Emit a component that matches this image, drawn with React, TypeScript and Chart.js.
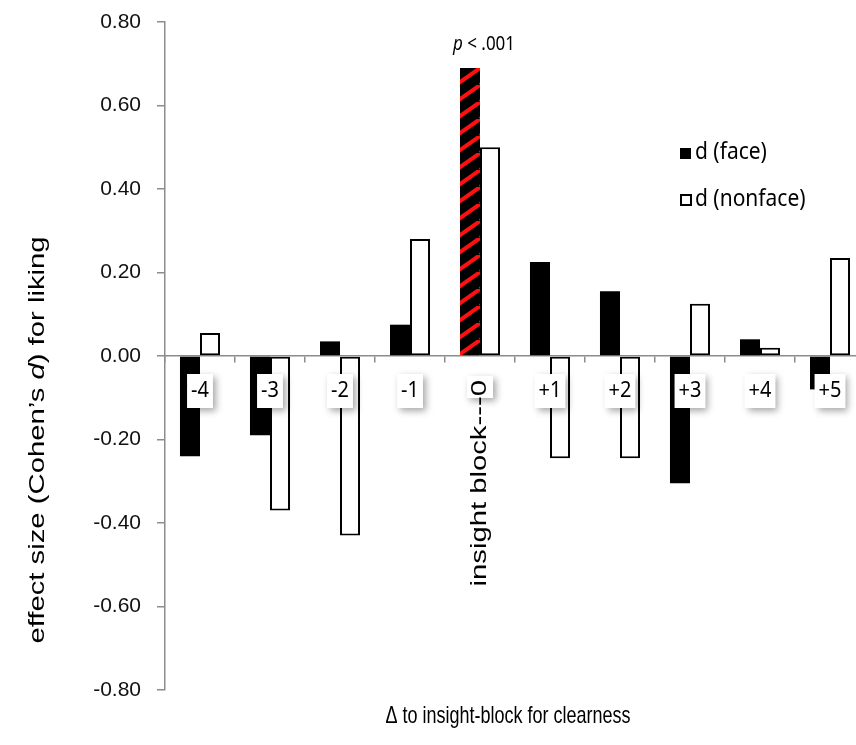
import React, { useEffect, useRef } from "react";
import { Chart, registerables } from "chart.js";

Chart.register(...registerables);

const categories = ["-4", "-3", "-2", "-1", "0", "+1", "+2", "+3", "+4", "+5"];
const faceValues = [-0.24, -0.19, 0.035, 0.075, 0.69, 0.225, 0.155, -0.305, 0.04, -0.08];
const nonfaceValues = [0.055, -0.37, -0.43, 0.28, 0.5, -0.245, -0.245, 0.125, 0.02, 0.235];
const seriesLabels = ["d (face)", "d (nonface)"];
const yMin = -0.8;
const yMax = 0.8;
const yStep = 0.2;
const highlightIndex = 4;
const insightLabel = "insight block---0";
const pLabelItalic = "p";
const pLabelRest = " < .001";
const xTitle = "\u0394 to insight-block for clearness";
const yTitleA = "effect size (Cohen\u2019s ";
const yTitleB = "d";
const yTitleC = ") for liking";

const LABEL_FONT = '"Noto Sans", "Open Sans", sans-serif';
const ARIAL = '"Liberation Sans", Arial, sans-serif';
const VSTRETCH = 1.33;
const VFONT = 22;

function makeHatch(ctx: CanvasRenderingContext2D) {
  const W = 24;
  const H = 17;
  const c = document.createElement("canvas");
  c.width = W;
  c.height = H;
  const g = c.getContext("2d")!;
  g.fillStyle = "#000";
  g.fillRect(0, 0, W, H);
  g.strokeStyle = "#ff1010";
  g.lineWidth = 4;
  for (const dx of [-W, 0, W]) {
    g.beginPath();
    g.moveTo(dx, H);
    g.lineTo(dx + W, 0);
    g.stroke();
  }
  return ctx.createPattern(c, "repeat")!;
}

function drawBoxLabel(ctx: CanvasRenderingContext2D, text: string, x: number, y: number) {
  ctx.save();
  ctx.font = `20px ${LABEL_FONT}`;
  const w = ctx.measureText(text).width + 8;
  const h = 34;
  ctx.shadowColor = "rgba(0,0,0,0.35)";
  ctx.shadowBlur = 7;
  ctx.shadowOffsetX = 3;
  ctx.shadowOffsetY = 3;
  ctx.fillStyle = "#fff";
  ctx.fillRect(x - w / 2, y - h / 2, w, h);
  ctx.restore();
  ctx.save();
  ctx.translate(x, y);
  ctx.scale(1, 1.12);
  ctx.font = `20px ${LABEL_FONT}`;
  ctx.fillStyle = "#000";
  ctx.textAlign = "center";
  ctx.textBaseline = "middle";
  ctx.fillText(text, 0, 0);
  ctx.restore();
}

const overlayPlugin = {
  id: "overlay",
  afterDraw(chart: any) {
    const ctx: CanvasRenderingContext2D = chart.ctx;
    const xs = chart.scales.x;
    const ys = chart.scales.y;
    const zeroY = ys.getPixelForValue(0);

    // category labels
    categories.forEach((cat, i) => {
      const cx = xs.getPixelForValue(i);
      if (i === highlightIndex) {
        ctx.save();
        ctx.shadowColor = "rgba(0,0,0,0.35)";
        ctx.shadowBlur = 7;
        ctx.shadowOffsetX = 3;
        ctx.shadowOffsetY = 3;
        ctx.fillStyle = "#fff";
        ctx.fillRect(cx - 13, zeroY + 20, 26, 22);
        ctx.restore();
        ctx.save();
        ctx.translate(cx, zeroY + 24);
        ctx.rotate(-Math.PI / 2);
        ctx.scale(VSTRETCH, 1);
        ctx.font = `${VFONT}px ${ARIAL}`;
        ctx.fillStyle = "#000";
        ctx.textAlign = "right";
        ctx.textBaseline = "middle";
        ctx.fillText(insightLabel, 0, 0);
        ctx.restore();
      } else {
        drawBoxLabel(ctx, cat, cx, zeroY + 35);
      }
    });

    // p annotation
    ctx.save();
    ctx.font = `italic 17px ${LABEL_FONT}`;
    const pw = ctx.measureText(pLabelItalic).width;
    ctx.font = `17px ${LABEL_FONT}`;
    const rw = ctx.measureText(pLabelRest).width;
    const px = 484 - (pw + rw) / 2;
    ctx.translate(0, 45);
    ctx.scale(1, 1.12);
    ctx.textBaseline = "middle";
    ctx.fillStyle = "#000";
    ctx.font = `italic 17px ${LABEL_FONT}`;
    ctx.fillText(pLabelItalic, px, 0);
    ctx.font = `17px ${LABEL_FONT}`;
    ctx.fillText(pLabelRest, px + pw, 0);
    ctx.restore();

    // legend
    ctx.save();
    ctx.fillStyle = "#000";
    ctx.fillRect(680, 148, 11, 11);
    ctx.strokeStyle = "#000";
    ctx.lineWidth = 2;
    ctx.strokeRect(681, 195, 10, 10);
    ctx.font = `21px ${LABEL_FONT}`;
    ctx.textBaseline = "middle";
    ctx.save();
    ctx.translate(695, 153);
    ctx.scale(1, 1.08);
    ctx.fillText(seriesLabels[0], 0, 0);
    ctx.restore();
    ctx.save();
    ctx.translate(695, 200);
    ctx.scale(1, 1.08);
    ctx.fillText(seriesLabels[1], 0, 0);
    ctx.restore();
    ctx.restore();

    // x title
    ctx.save();
    ctx.translate(508, 717);
    ctx.scale(1, 1.3);
    ctx.font = `18px ${ARIAL}`;
    ctx.fillStyle = "#000";
    ctx.textAlign = "center";
    ctx.textBaseline = "middle";
    ctx.fillText(xTitle, 0, 0);
    ctx.restore();

    // y title
    ctx.save();
    ctx.translate(38, 440);
    ctx.rotate(-Math.PI / 2);
    ctx.scale(VSTRETCH, 1);
    ctx.font = `${VFONT}px ${ARIAL}`;
    const wa = ctx.measureText(yTitleA).width;
    const wc = ctx.measureText(yTitleC).width;
    ctx.font = `italic ${VFONT}px ${ARIAL}`;
    const wb = ctx.measureText(yTitleB).width;
    let tx = -(wa + wb + wc) / 2;
    ctx.textBaseline = "middle";
    ctx.fillStyle = "#000";
    ctx.font = `${VFONT}px ${ARIAL}`;
    ctx.fillText(yTitleA, tx, 0);
    tx += wa;
    ctx.font = `italic ${VFONT}px ${ARIAL}`;
    ctx.fillText(yTitleB, tx, 0);
    tx += wb;
    ctx.font = `${VFONT}px ${ARIAL}`;
    ctx.fillText(yTitleC, tx, 0);
    ctx.restore();
  },
};

export default function App() {
  const ref = useRef<HTMLCanvasElement | null>(null);
  useEffect(() => {
    const canvas = ref.current!;
    const ctx = canvas.getContext("2d")!;
    const hatch = makeHatch(ctx);
    const faceColors = faceValues.map((_, i) => (i === highlightIndex ? hatch : "#000"));
    const chart = new Chart(canvas, {
      type: "bar",
      data: {
        labels: categories,
        datasets: [
          {
            label: seriesLabels[0],
            data: faceValues,
            backgroundColor: faceColors as any,
            borderWidth: 0,
            categoryPercentage: 0.572,
            barPercentage: 1,
          },
          {
            label: seriesLabels[1],
            data: nonfaceValues,
            backgroundColor: "#fff",
            borderColor: "#000",
            borderWidth: 2,
            borderSkipped: false,
            categoryPercentage: 0.572,
            barPercentage: 1,
          },
        ],
      },
      options: {
        animation: false,
        responsive: false,
        maintainAspectRatio: false,
        devicePixelRatio: 1,
        layout: { padding: { top: 22, bottom: 55, left: 0, right: 5 } },
        plugins: {
          legend: { display: false },
          tooltip: { enabled: false },
        },
        scales: {
          x: {
            position: { y: 0 } as any,
            ticks: { display: false },
            grid: {
              display: true,
              drawOnChartArea: false,
              drawTicks: true,
              tickLength: 6,
              color: "#8c8c8c",
              lineWidth: 1.5,
            },
            border: { display: true, color: "#8c8c8c", width: 1.5 },
            afterFit: (s: any) => {
              s.height = 0;
              s.paddingLeft = 0;
              s.paddingRight = 0;
            },
          },
          y: {
            min: yMin,
            max: yMax,
            ticks: {
              stepSize: yStep,
              padding: 16,
              color: "#111",
              font: { family: ARIAL, size: 21 },
              callback: (v: any) => Number(v).toFixed(2),
            },
            grid: {
              display: true,
              drawOnChartArea: false,
              drawTicks: true,
              tickLength: 8,
              color: "#8c8c8c",
              lineWidth: 1.5,
            },
            border: { display: true, color: "#8c8c8c", width: 1.5 },
            afterFit: (s: any) => {
              s.width = 165;
              s.paddingTop = 0;
              s.paddingBottom = 0;
            },
          },
        },
      },
      plugins: [overlayPlugin],
    });
    return () => chart.destroy();
  }, []);
  return (
    <div
      style={{
        position: "fixed",
        left: 0,
        top: 0,
        width: 856,
        height: 745,
        overflow: "hidden",
        background: "#fff",
      }}
    >
      <canvas ref={ref} width={870} height={745} style={{ display: "block", width: 870, height: 745 }} />
    </div>
  );
}
